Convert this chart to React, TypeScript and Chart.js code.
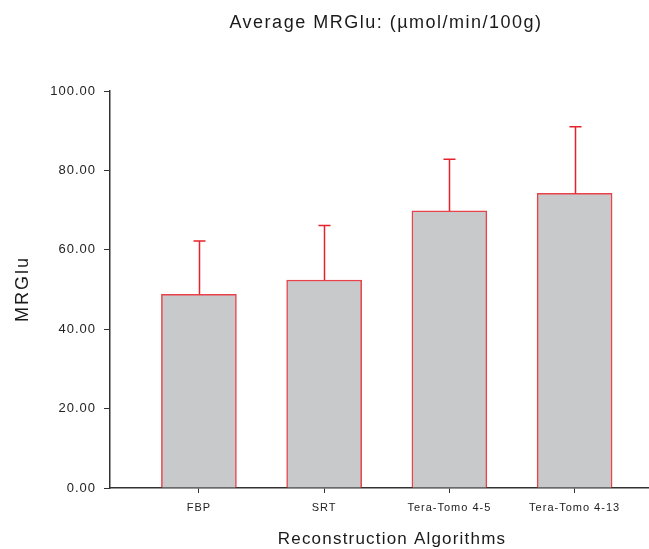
import React, { useEffect, useRef } from "react";
import { Chart, registerables } from "chart.js";

Chart.register(...registerables);

const categories = ["FBP", "SRT", "Tera-Tomo 4-5", "Tera-Tomo 4-13"];
const meanValues = [48.8, 52.4, 69.8, 74.2];
const errorValues = [13.4, 13.7, 13.0, 16.8];
const yTickValues = [0, 20, 40, 60, 80, 100];

const titleText = "Average MRGlu: (\u00b5mol/min/100g)";
const xTitleText = "Reconstruction Algorithms";
const yTitleText = "MRGlu";

const FONT = "Arial, 'Liberation Sans', Helvetica, sans-serif";

const spacingPlugin = {
  id: "spacing",
  beforeInit(chart: any) {
    chart.ctx.letterSpacing = "1px";
  },
  beforeLayout(chart: any) {
    chart.ctx.letterSpacing = "1px";
  },
  beforeDraw(chart: any) {
    chart.ctx.letterSpacing = "1px";
  },
};

const errorBarPlugin = {
  id: "errorBars",
  afterDatasetsDraw(chart: any) {
    const meta = chart.getDatasetMeta(0);
    const yScale = chart.scales.y;
    const ctx = chart.ctx;
    ctx.save();
    ctx.strokeStyle = "#e8222c";
    ctx.lineWidth = 1.5;
    meta.data.forEach((bar: any, i: number) => {
      const x = Math.round(bar.x) + 0.5;
      const yTop = yScale.getPixelForValue(meanValues[i] + errorValues[i]);
      const yBar = yScale.getPixelForValue(meanValues[i]);
      ctx.beginPath();
      ctx.moveTo(x, yBar);
      ctx.lineTo(x, yTop);
      ctx.moveTo(x - 6, yTop);
      ctx.lineTo(x + 6, yTop);
      ctx.stroke();
    });
    ctx.restore();
  },
};

const textPlugin = {
  id: "texts",
  afterDraw(chart: any) {
    const ctx = chart.ctx;
    ctx.save();
    ctx.fillStyle = "#1a1a1a";
    ctx.textAlign = "center";
    ctx.textBaseline = "middle";
    ctx.font = `18px ${FONT}`;
    ctx.letterSpacing = "1.5px";
    ctx.fillText(titleText, 386, 23);
    ctx.font = `17px ${FONT}`;
    ctx.letterSpacing = "1.2px";
    ctx.fillText(xTitleText, 392, 539);
    ctx.font = `18px ${FONT}`;
    ctx.letterSpacing = "2px";
    ctx.translate(23, 289);
    ctx.rotate(-Math.PI / 2);
    ctx.fillText(yTitleText, 0, 0);
    ctx.restore();
  },
};

export default function App() {
  const ref = useRef<HTMLCanvasElement>(null);
  useEffect(() => {
    if (!ref.current) return;
    const chart = new Chart(ref.current, {
      type: "bar",
      data: {
        datasets: [
          {
            data: meanValues.map((v, i) => ({ x: i + 1, y: v })),
            backgroundColor: "#c8c9cb",
            borderColor: "#e8434b",
            borderWidth: 1.5,
            barThickness: 75,
          },
        ],
      },
      plugins: [spacingPlugin, errorBarPlugin, textPlugin],
      options: {
        animation: false,
        responsive: false,
        maintainAspectRatio: false,
        layout: { padding: { left: 0, right: 0, top: 91, bottom: 0 } },
        plugins: {
          legend: { display: false },
          tooltip: { enabled: false },
          title: { display: false },
        },
        scales: {
          x: {
            type: "linear",
            offset: false,
            min: 0.29,
            max: 4.594,
            afterFit(scale: any) {
              scale.height = 61;
            },
            afterBuildTicks(scale: any) {
              scale.ticks = categories.map((_, i) => ({ value: i + 1 }));
            },
            ticks: {
              callback: (v: any) => categories[Math.round(v) - 1] ?? "",
              font: { size: 11, family: FONT },
              color: "#222",
              padding: 8,
              maxRotation: 0,
              autoSkip: false,
            },
            grid: {
              offset: false,
              drawOnChartArea: false,
              tickLength: 5,
              color: "#333",
              lineWidth: 1,
            },
            border: { color: "#333", width: 1.5 },
          },
          y: {
            min: 0,
            max: 100,
            afterFit(scale: any) {
              scale.width = 110;
            },
            afterBuildTicks(scale: any) {
              scale.ticks = yTickValues.map((v) => ({ value: v }));
            },
            ticks: {
              callback: (v: any) => Number(v).toFixed(2),
              font: { size: 13, family: FONT },
              color: "#222",
              padding: 8,
            },
            grid: {
              drawOnChartArea: false,
              tickLength: 6,
              color: "#333",
              lineWidth: 1,
            },
            border: { color: "#333", width: 1.5 },
          },
        },
      },
    });
    return () => chart.destroy();
  }, []);
  return (
    <div style={{ position: "fixed", left: 0, top: 0, width: 649, height: 549, background: "#fff" }}>
      <canvas ref={ref} width={649} height={549} style={{ width: 649, height: 549 }} />
    </div>
  );
}
